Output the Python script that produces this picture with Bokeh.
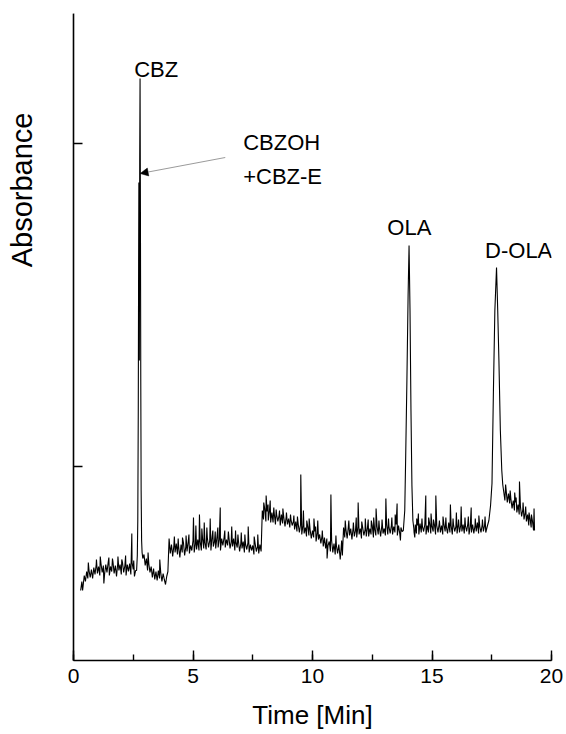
from bokeh.plotting import figure
from bokeh.models import (Range1d, SingleIntervalTicker, FixedTicker, Label, Arrow, NormalHead,
                          Title, LinearAxis)
from bokeh.embed import file_html
from bokeh.resources import INLINE

FONT = "Liberation Sans"

# ---------------- data (absorbance, arbitrary units) ----------------
# baseline samples every 0.05 min starting at 0.30 min; None = inside a peak window
baseline = [
    # 0.30 - 1.25
    7.0, 7.9, 7.4, 8.5, 7.9, 8.9, 8.2, 9.0, 8.3, 9.1, 8.2, 9.3, 8.6, 9.6, 8.7, 9.4, 8.5, 9.7, 8.8, 9.5,
    # 1.30 - 2.25
    8.6, 9.6, 8.8, 9.8, 8.5, 9.4, 8.9, 9.9, 8.7, 9.5, 8.4, 9.7, 9.0, 9.6, 8.6, 9.8, 8.8, 9.5, 8.5, 9.6,
    # 2.30 - 3.25
    8.9, 9.7, 8.6, 9.8, 9.1, 8.4, 9.0, None, None, None, None, None, None, 10.6, 9.5, 10.2, 9.0, 9.7, 8.8, 9.4,
    # 3.30 - 4.25
    8.3, 9.2, 8.1, 8.9, 8.0, 9.0, 8.2, 8.8, 7.9, 8.7, 8.1, 7.6, 8.4, 8.9, 12.2, 10.7, 11.6, 10.4, 11.5, 10.8,
    # 4.30 - 5.25
    11.7, 10.6, 11.4, 10.3, 11.6, 10.8, 11.8, 10.5, 11.4, 10.9, 11.9, 10.7, 11.5, 11.0, 12.0, 10.8, 11.7, 11.1, 12.1, 11.0,
    # 5.30 - 6.25
    11.9, 11.0, 12.2, 11.2, 11.8, 11.1, 12.3, 11.3, 12.0, 11.0, 12.4, 11.4, 11.9, 11.2, 12.3, 11.3, 12.1, 11.0, 12.2, 11.5,
    # 6.30 - 7.25
    12.3, 11.3, 12.1, 11.5, 12.4, 11.2, 11.9, 11.4, 12.2, 11.0, 11.8, 11.3, 12.0, 10.9, 11.7, 11.2, 11.9, 10.8, 11.6, 11.1,
    # 7.30 - 8.25
    11.8, 10.8, 11.6, 11.0, 11.5, 10.6, 11.7, 10.9, 11.4, 10.7, 11.6, 10.9, 15.0, 14.1, 15.2, 13.9, 14.9, 14.0, 15.0, 13.8,
    # 8.30 - 9.25
    14.8, 13.8, 14.7, 13.6, 14.6, 13.9, 14.5, 13.5, 14.6, 13.7, 14.3, 13.4, 14.4, 13.6, 14.2, 13.3, 14.1, 13.5, 13.9, 13.1,
    # 9.30 - 10.25
    13.9, 12.9, 13.7, 12.8, 13.6, 12.6, 13.5, 12.7, 13.3, 12.4, 13.4, 12.5, 13.1, 12.2, 13.0, 12.3, 12.9, 11.9, 12.8, 12.1,
    # 10.30 - 11.25
    12.6, 11.7, 12.5, 11.4, 12.3, 11.2, 12.2, 11.5, 11.9, 10.9, 12.0, 10.8, 11.7, 10.6, 11.5, 10.7, 11.6, 10.4, 11.3, 10.5,
    # 11.30 - 12.25
    13.3, 12.3, 13.1, 12.2, 13.4, 12.5, 13.2, 12.1, 13.3, 12.4, 13.0, 12.3, 13.4, 12.6, 13.2, 12.2, 13.3, 12.5, 13.1, 12.4,
    # 12.30 - 13.25
    13.3, 12.4, 13.2, 12.6, 13.5, 12.3, 13.1, 12.5, 13.4, 12.6, 13.3, 12.4, 13.5, 12.7, 13.2, 12.5, 13.6, 12.6, 13.4, 12.7,
    # 13.30 - 14.25
    13.5, 12.6, 13.4, 12.8, 13.6, 12.5, 13.5, 12.7, 13.3, 12.9, None, None, None, None, None, None, None, None, None, 12.8,
    # 14.30 - 15.25
    13.6, 12.7, 13.5, 12.6, 13.7, 12.8, 13.4, 12.9, 13.6, 12.6, 13.5, 12.8, 13.7, 12.7, 13.4, 12.9, 13.6, 12.6, 13.5, 12.8,
    # 15.30 - 16.25
    13.7, 12.8, 13.5, 12.6, 13.6, 12.9, 13.4, 12.7, 13.8, 12.8, 13.5, 12.6, 13.6, 12.9, 13.4, 12.7, 13.7, 12.8, 13.5, 12.9,
    # 16.30 - 17.25
    13.6, 12.7, 13.5, 12.9, 13.7, 12.6, 13.4, 12.8, 13.6, 12.7, 13.5, 12.9, 13.8, 12.7, 13.4, 12.8, 13.6, 12.9, 13.5, 12.8,
    # 17.30 - 18.25
    None, None, None, None, None, None, None, None, None, None, None, None, None, None, 16.9, 16.0, 17.1, 15.8, 16.7, 15.7,
    # 18.30 - 19.25
    16.2, 15.2, 16.0, 15.0, 15.8, 14.8, 15.6, 14.6, 15.4, 14.4, 15.1, 14.1, 14.8, 13.9, 14.6, 13.5, 14.2, 13.3, 14.0, 13.0,
]
baseline_start = 0.30
baseline_step = 0.05

# peaks
cbz_time = [2.64, 2.67, 2.69, 2.71, 2.725, 2.735, 2.745, 2.755, 2.77, 2.785, 2.80, 2.815, 2.83, 2.85, 2.87, 2.90]
cbz_abs = [9.0, 10.5, 14.0, 25.0, 40.0, 47.8, 38.0, 30.0, 50.0, 58.2, 45.0, 28.0, 17.0, 12.0, 10.8, 10.2]
ola_time = [13.80, 13.86, 13.90, 13.95, 14.00, 14.04, 14.08, 14.12, 14.16, 14.20, 14.24]
ola_abs = [13.0, 15.0, 20.5, 28.0, 36.5, 41.5, 35.0, 25.0, 17.5, 14.0, 13.2]
dola_time = [17.30, 17.38, 17.45, 17.51, 17.57, 17.63, 17.70, 17.75, 17.80, 17.86, 17.92, 17.96]
dola_abs = [13.3, 14.0, 15.5, 17.7, 27.0, 35.0, 39.3, 35.0, 30.0, 23.0, 19.0, 17.6]

# single-sample noise spikes (and the last sample)
spike_time = [0.38, 0.62, 0.96, 1.12, 1.27, 1.48, 1.63, 1.86, 2.02, 2.18, 2.44, 2.52, 3.12, 3.61, 3.84,
              4.22, 4.38, 4.56, 4.71, 4.83, 5.02, 5.12, 5.27, 5.37, 5.47, 5.58, 5.72, 5.83, 5.93, 6.04,
              6.14, 6.33, 6.48, 6.62, 6.78, 6.88, 7.02, 7.17, 7.31, 7.56, 7.71, 7.96, 8.06, 8.14, 8.23,
              8.38, 8.48, 8.62, 8.76, 8.91, 9.08, 9.22, 9.37, 9.51, 9.62, 9.76, 9.86, 10.06, 10.13, 10.22,
              10.41, 10.61, 10.77, 10.98, 11.16, 11.22, 11.37, 11.52, 11.71, 11.83, 11.91, 12.06, 12.21,
              12.33, 12.46, 12.56, 12.66, 12.78, 12.91, 13.07, 13.18, 13.32, 13.46, 13.54, 13.68, 14.28,
              14.36, 14.43, 14.58, 14.74, 14.86, 14.96, 15.06, 15.16, 15.31, 15.46, 15.58, 15.77, 15.88,
              16.02, 16.11, 16.22, 16.38, 16.52, 16.64, 16.81, 16.96, 17.11, 17.22, 18.08, 18.27, 18.46,
              18.52, 18.66, 18.81, 18.92, 19.06, 19.16, 19.27, 19.29]
spike_abs = [7.0, 9.8, 10.1, 10.4, 7.7, 10.3, 10.2, 10.4, 10.1, 10.5, 12.7, 10.0, 10.8, 10.1, 7.7,
             12.4, 12.2, 12.3, 12.5, 12.6, 14.3, 13.5, 14.6, 13.2, 13.8, 13.3, 14.2, 13.0, 12.9, 13.3,
             15.3, 13.0, 12.9, 13.4, 13.0, 12.6, 12.8, 12.6, 13.4, 12.4, 12.6, 15.8, 16.5, 15.6, 16.0,
             15.3, 15.1, 15.0, 15.2, 14.8, 14.6, 14.5, 14.4, 18.6, 15.0, 14.0, 14.2, 14.2, 13.4, 14.0,
             13.0, 10.2, 16.6, 12.5, 10.1, 12.0, 14.0, 14.0, 13.8, 14.3, 15.8, 13.9, 14.2,
             14.1, 14.0, 14.3, 15.2, 14.0, 14.1, 16.2, 14.2, 14.3, 14.6, 15.7, 12.0, 12.3,
             14.2, 14.7, 14.2, 16.5, 14.3, 14.7, 14.1, 16.5, 14.0, 14.4, 14.3, 15.6, 14.2,
             14.8, 14.1, 15.4, 14.3, 14.4, 15.3, 14.2, 14.5, 14.1, 14.4, 17.6, 17.0, 16.8,
             16.3, 17.9, 15.8, 15.4, 14.8, 14.6, 15.2, 13.0]

x_tick_interval = 5
y_ticks = [19.4, 51.7]

peak_labels = ["CBZ", "CBZOH", "+CBZ-E", "OLA", "D-OLA"]

# ---------------- assemble trace ----------------
pts = []
for i, v in enumerate(baseline):
    if v is not None:
        pts.append((round(baseline_start + baseline_step * i, 3), v))
for ts, vs in ((cbz_time, cbz_abs), (ola_time, ola_abs), (dola_time, dola_abs), (spike_time, spike_abs)):
    pts.extend(zip(ts, vs))
pts.sort(key=lambda a: a[0])
trace_t = [a[0] for a in pts]
trace_v = [a[1] for a in pts]

# ---------------- figure ----------------
Y_TOP = 64.7
p = figure(width=566, height=734, x_range=Range1d(0, 20), y_range=Range1d(0, Y_TOP),
           output_backend="svg", toolbar_location=None,
           min_border_left=73, min_border_right=15, min_border_top=13, min_border_bottom=74)
p.outline_line_color = None
p.grid.visible = False
p.background_fill_color = "white"
p.border_fill_color = "white"

p.line(trace_t, trace_v, line_color="black", line_width=1.1)

xa = p.xaxis[0]
xa.ticker = SingleIntervalTicker(interval=x_tick_interval, num_minor_ticks=2)
xa.axis_label = "Time [Min]"
xa.axis_label_text_font = FONT
xa.axis_label_text_font_size = "26px"
xa.axis_label_text_font_style = "normal"
xa.axis_label_text_color = "black"
xa.axis_label_standoff = 14
xa.major_label_text_font = FONT
xa.major_label_text_font_size = "21px"
xa.major_label_text_color = "black"
xa.major_label_standoff = 8
xa.major_tick_in = 10
xa.major_tick_out = 0
xa.minor_tick_in = 6
xa.minor_tick_out = 0
xa.axis_line_width = 1.6
xa.major_tick_line_width = 1.4
xa.minor_tick_line_width = 1.4
xa.axis_line_color = "black"
xa.major_tick_line_color = "black"
xa.minor_tick_line_color = "black"

ya = p.yaxis[0]
ya.ticker = FixedTicker(ticks=y_ticks, minor_ticks=[])
ya.major_label_overrides = {t: "" for t in y_ticks}
ya.major_label_text_color = None
ya.major_label_standoff = 0
ya.major_tick_in = 9
ya.major_tick_out = 0
ya.minor_tick_in = 0
ya.minor_tick_out = 0
ya.axis_line_width = 1.6
ya.major_tick_line_width = 1.4
ya.axis_line_color = "black"
ya.major_tick_line_color = "black"

# blank spacer panel (one hair-thin white tick at the very top) so the y title sits near the left edge
spacer = LinearAxis(ticker=FixedTicker(ticks=[Y_TOP], minor_ticks=[]), major_tick_in=0, major_tick_out=35,
                    minor_tick_in=0, minor_tick_out=0, axis_line_color=None,
                    major_tick_line_color="white", major_tick_line_width=0.3,
                    minor_tick_line_color=None,
                    major_label_overrides={Y_TOP: ""}, major_label_text_color=None,
                    major_label_standoff=0)
p.add_layout(spacer, "left")

# y title sits in the upper part of the axis, as in the original
p.add_layout(Title(text="Absorbance", align="right", offset=99, standoff=2,
                   text_font=FONT, text_font_size="29px", text_font_style="normal",
                   text_color="black"), "left")

# peak labels
label_pos = [(3.46, 59.1, "center"), (7.10, 51.8, "left"), (7.10, 48.4, "left"),
             (14.05, 43.3, "center"), (17.22, 41.0, "left")]
for txt, (lx, ly, al) in zip(peak_labels, label_pos):
    p.add_layout(Label(x=lx, y=ly, text=txt, text_align=al, text_baseline="alphabetic",
                       text_font=FONT, text_font_size="22px", text_color="black"))

p.add_layout(Arrow(end=NormalHead(size=8, fill_color="black", line_color="black", line_width=0.5),
                   x_start=6.35, y_start=50.3, x_end=2.79, y_end=48.7,
                   line_color="#808080", line_width=0.8))

open("out.html", "w").write(file_html(p, INLINE))
